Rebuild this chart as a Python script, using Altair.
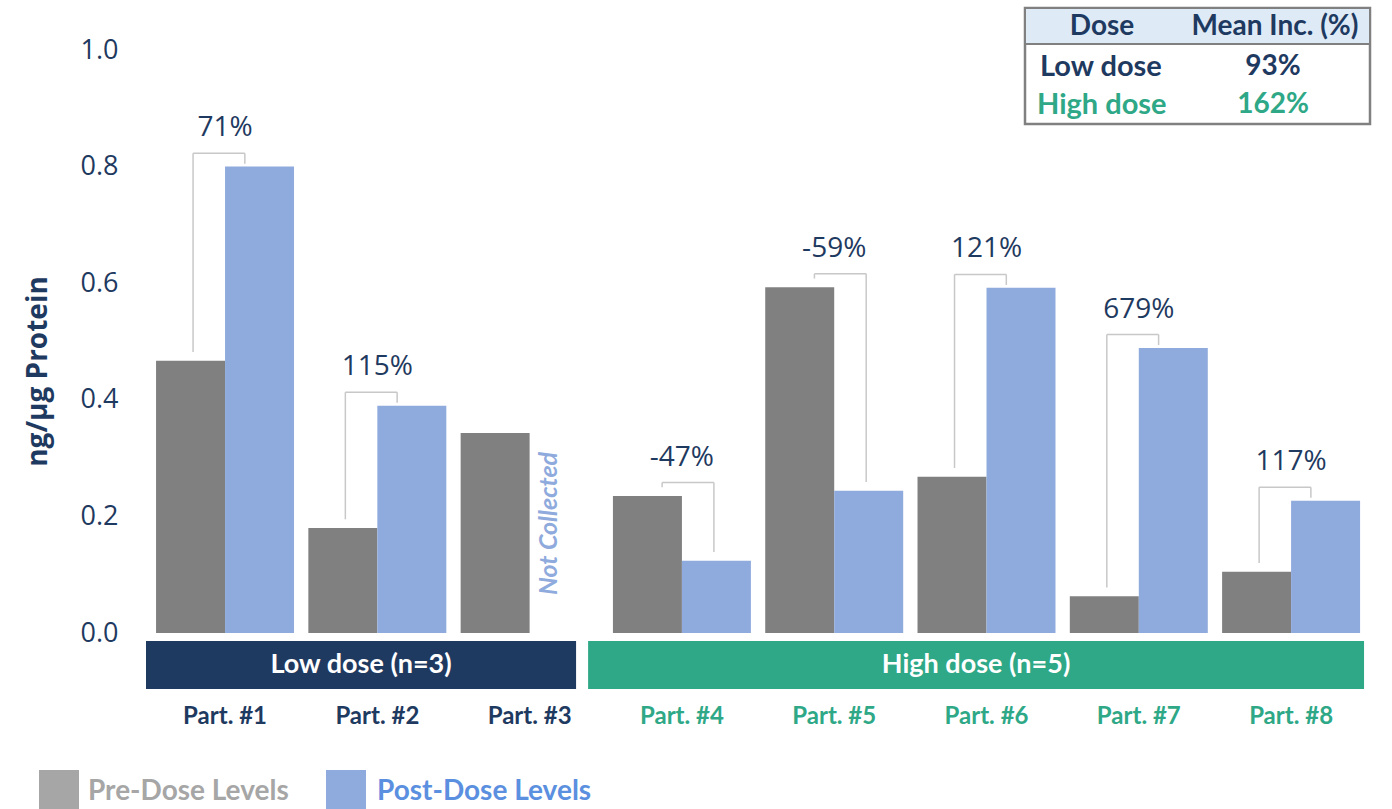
import altair as alt
import pandas as pd

# ---------------- data ----------------
participants = ["Part. #1", "Part. #2", "Part. #3", "Part. #4",
                "Part. #5", "Part. #6", "Part. #7", "Part. #8"]
dose_of_part = ["Low", "Low", "Low", "High", "High", "High", "High", "High"]
pre_dose = [0.467, 0.180, 0.343, 0.235, 0.593, 0.268, 0.063, 0.105]
post_dose = [0.800, 0.390, None, 0.124, 0.244, 0.592, 0.489, 0.227]
pct_change = ["71%", "115%", None, "-47%", "-59%", "121%", "679%", "117%"]
group_labels = ["Low dose (n=3)", "High dose (n=5)"]
group_keys = ["Low", "High"]
series_names = ["Pre-Dose Levels", "Post-Dose Levels"]
table_header = ["Dose", "Mean Inc. (%)"]
table_doses = ["Low dose", "High dose"]
table_means = ["93%", "162%"]
not_collected = "Not Collected"

# ---------------- style / layout ----------------
NAVY = "#1f3a60"
GREEN = "#2ea886"
PRE = "#808080"
POST = "#8faadc"
PRE_LEG = "#a6a6a6"
POST_LEG_TXT = "#5b8fe0"
BRACKET = "#c8c8c8"
FONT_NUM = "Open Sans"
FONT_B = "Lato"

W, H = 1222, 583
BAR = 0.453
xscale = alt.Scale(domain=[-0.519, 7.505], nice=False, zero=False)
yscale = alt.Scale(domain=[0, 1.0], nice=False)
yaxis = alt.Axis(values=[0, 0.2, 0.4, 0.6, 0.8, 1.0], format=".1f",
                 title="ng/µg Protein", domain=False, ticks=False, grid=False,
                 labelFontSize=27, labelColor=NAVY, labelFont=FONT_NUM,
                 labelPadding=28, titleFontSize=28, titleFont=FONT_NUM,
                 titleFontWeight="bold", titleColor=NAVY, titleAngle=270,
                 titleX=-108, titleY=321, titleAlign="center",
                 titleBaseline="middle")
group_span = {"Low": (-0.519, 2.305), "High": (2.384, 7.479)}


def X(f):
    return alt.X(f, type="quantitative", scale=xscale, axis=None)


def Y(f):
    return alt.Y(f, type="quantitative", scale=yscale, axis=yaxis)


# bars
rows = []
for i, p in enumerate(participants):
    rows.append(dict(part=p, series=series_names[0], x0=i - BAR, x1=i,
                     value=pre_dose[i], base=0.0))
    if post_dose[i] is not None:
        rows.append(dict(part=p, series=series_names[1], x0=i, x1=i + BAR,
                         value=post_dose[i], base=0.0))
bars_df = pd.DataFrame(rows)

bars = alt.Chart(bars_df).mark_rect().encode(
    x=X("x0"), x2="x1", y=Y("value"), y2="base",
    color=alt.Color("series:N", scale=alt.Scale(domain=series_names,
                                                range=[PRE, POST]),
                    legend=None),
)

# brackets and percentage labels
seg_rows, lab_rows = [], []
for i, p in enumerate(participants):
    if post_dose[i] is None:
        continue
    a, b = pre_dose[i], post_dose[i]
    inc = b > a
    top = max(a, b) + 0.023
    xl = i - (0.21 if inc else 0.13)
    xr = i + (0.13 if inc else 0.21)
    seg_rows += [
        dict(x=xl, x2=xl, y=a + 0.015, y2=top),
        dict(x=xl, x2=xr, y=top, y2=top),
        dict(x=xr, x2=xr, y=b + (0.005 if inc else 0.015), y2=top),
    ]
    lab_rows.append(dict(x=i, y=top, text=pct_change[i]))
seg_df = pd.DataFrame(seg_rows)
lab_df = pd.DataFrame(lab_rows)

brackets = alt.Chart(seg_df).mark_rule(color=BRACKET, strokeWidth=1.5).encode(
    x=X("x"), x2="x2", y=Y("y"), y2="y2")
pct_text = alt.Chart(lab_df).mark_text(
    fontSize=28, font=FONT_NUM, color=NAVY, baseline="middle", dy=-25
).encode(x=X("x"), y=Y("y"), text="text:N")

# Not collected
nc_df = pd.DataFrame([dict(x=participants.index("Part. #3") + 0.13,
                           y=0.065, text=not_collected)])
nc_text = alt.Chart(nc_df).mark_text(
    angle=270, align="left", baseline="middle", fontSize=25, font=FONT_B,
    fontStyle="italic", fontWeight="bold", color=POST
).encode(x=X("x"), y=Y("y"), text="text:N")

# dose group bands
grp_df = pd.DataFrame([dict(key=k, label=l, x0=group_span[k][0],
                            x1=group_span[k][1],
                            xc=(group_span[k][0] + group_span[k][1]) / 2)
                       for k, l in zip(group_keys, group_labels)])
grp_rect = alt.Chart(grp_df).mark_rect().encode(
    x=X("x0"), x2="x1", y=alt.value(591), y2=alt.value(639),
    color=alt.Color("key:N", scale=alt.Scale(domain=group_keys,
                                             range=[NAVY, GREEN]),
                    legend=None))
grp_text = alt.Chart(grp_df).mark_text(
    fontSize=27, font=FONT_B, fontWeight="bold", color="white",
    baseline="middle"
).encode(x=X("xc"), y=alt.value(615), text="label:N")

# participant labels
part_df = pd.DataFrame([dict(x=i, part=p, key=dose_of_part[i])
                        for i, p in enumerate(participants)])
part_text = alt.Chart(part_df).mark_text(
    fontSize=24, font=FONT_B, fontWeight="bold", baseline="middle"
).encode(x=X("x"), y=alt.value(667), text="part:N",
         color=alt.Color("key:N", scale=alt.Scale(domain=group_keys,
                                                  range=[NAVY, GREEN]),
                         legend=None))

# legend (manual)
leg_df = pd.DataFrame(dict(name=series_names))
leg_pre_sq = alt.Chart(leg_df.iloc[[0]]).mark_rect(color=PRE_LEG).encode(
    x=alt.value(-107), x2=alt.value(-67), y=alt.value(720), y2=alt.value(760))
leg_post_sq = alt.Chart(leg_df.iloc[[1]]).mark_rect(color=POST).encode(
    x=alt.value(180), x2=alt.value(220), y=alt.value(720), y2=alt.value(760))
leg_pre_tx = alt.Chart(leg_df.iloc[[0]]).mark_text(
    align="left", baseline="middle", fontSize=28, font=FONT_B,
    fontWeight="bold", color=PRE_LEG
).encode(x=alt.value(-58), y=alt.value(742), text="name:N")
leg_post_tx = alt.Chart(leg_df.iloc[[1]]).mark_text(
    align="left", baseline="middle", fontSize=28, font=FONT_B,
    fontWeight="bold", color=POST_LEG_TXT
).encode(x=alt.value(231), y=alt.value(742), text="name:N")

# summary table (top right)
tbl_df = pd.DataFrame(dict(dose=table_doses, mean=table_means,
                           key=group_keys))
tbl_box = alt.Chart(tbl_df.iloc[[0]]).mark_rect(
    fill="white", stroke="#808080", strokeWidth=2.5
).encode(x=alt.value(879), x2=alt.value(1224), y=alt.value(-42),
         y2=alt.value(74))
tbl_head = alt.Chart(tbl_df.iloc[[0]]).mark_rect(
    fill="#deebf7", stroke="#808080", strokeWidth=2
).encode(x=alt.value(879), x2=alt.value(1224), y=alt.value(-42),
         y2=alt.value(-6))
head_df = pd.DataFrame(dict(h=table_header))
tbl_h1 = alt.Chart(head_df.iloc[[0]]).mark_text(
    fontSize=28, font=FONT_B, fontWeight="bold", color=NAVY,
    baseline="middle").encode(x=alt.value(956), y=alt.value(-23), text="h:N")
tbl_h2 = alt.Chart(head_df.iloc[[1]]).mark_text(
    fontSize=28, font=FONT_B, fontWeight="bold", color=NAVY,
    baseline="middle").encode(x=alt.value(1129), y=alt.value(-23), text="h:N")
tcolor = alt.Color("key:N", scale=alt.Scale(domain=group_keys,
                                            range=[NAVY, GREEN]), legend=None)
tbl_r1a = alt.Chart(tbl_df.iloc[[0]]).mark_text(
    fontSize=29, font=FONT_B, fontWeight="bold", align="left",
    baseline="middle").encode(x=alt.value(894), y=alt.value(17),
                              text="dose:N", color=tcolor)
tbl_r1b = alt.Chart(tbl_df.iloc[[0]]).mark_text(
    fontSize=28, font=FONT_B, fontWeight="bold", baseline="middle"
).encode(x=alt.value(1127), y=alt.value(17), text="mean:N", color=tcolor)
tbl_r2a = alt.Chart(tbl_df.iloc[[1]]).mark_text(
    fontSize=29, font=FONT_B, fontWeight="bold", align="left",
    baseline="middle").encode(x=alt.value(891), y=alt.value(55),
                              text="dose:N", color=tcolor)
tbl_r2b = alt.Chart(tbl_df.iloc[[1]]).mark_text(
    fontSize=28, font=FONT_B, fontWeight="bold", baseline="middle"
).encode(x=alt.value(1127), y=alt.value(55), text="mean:N", color=tcolor)

chart = alt.layer(
    bars, brackets, pct_text, nc_text, grp_rect, grp_text, part_text,
    leg_pre_sq, leg_post_sq, leg_pre_tx, leg_post_tx,
    tbl_box, tbl_head, tbl_h1, tbl_h2, tbl_r1a, tbl_r1b, tbl_r2a, tbl_r2b,
).resolve_scale(color="independent").properties(
    width=W, height=H,
    autosize=alt.AutoSizeParams(type="none"),
    padding={"left": 146, "top": 50, "right": 24, "bottom": 176},
    background="white",
).configure_view(stroke=None)

chart.save("out.html", embed_options={"renderer": "svg", "actions": False})
